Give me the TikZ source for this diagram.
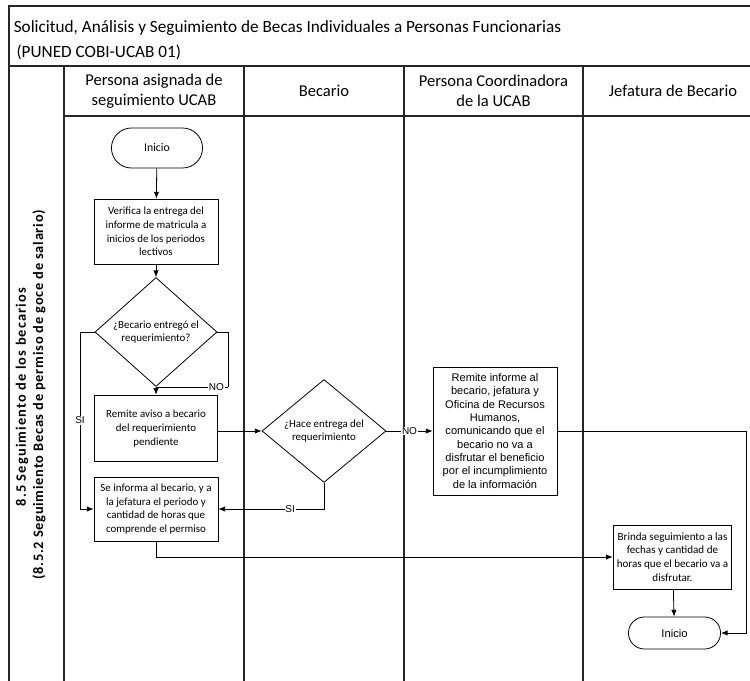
\documentclass[tikz,border=0pt]{standalone}
\usepackage{fontspec}
\setmainfont{Carlito}
\newfontfamily\arialfont{Liberation Sans}
\usetikzlibrary{shapes.geometric,shapes.misc,arrows.meta}

\tikzset{%
  lane line/.style={
    draw=black!85,
    line width=1pt
  },
  lane title/.style={
    align=center,
    font=\fontsize{12.4}{15}\selectfont
  },
  phase title/.style={
    rotate=90,
    font=\bfseries\fontsize{10.8}{12.8}\selectfont
  },
  process/.style={
    rectangle,
    draw,
    line width=0.6pt,
    align=center,
    inner sep=1pt,
    font=\fontsize{8.2}{10.3}\selectfont
  },
  decision/.style={
    diamond,
    draw,
    line width=0.6pt,
    align=center,
    inner sep=0pt,
    font=\fontsize{8.2}{10.3}\selectfont
  },
  terminal/.style={
    rounded rectangle,
    draw,
    line width=0.6pt,
    font=\fontsize{8.8}{10}\selectfont
  },
  flow label/.style={
    fill=white,
    inner sep=0.5pt,
    font=\arialfont\fontsize{7.5}{8}\selectfont
  },
}

\begin{document}
\begin{tikzpicture}[x=0.75pt, y=-0.75pt, >={Latex[length=5pt,width=4pt]}, line width=0.6pt]
    \useasboundingbox (0,0) rectangle (750,681);
    \clip (0,0) rectangle (750,681);

        % pool and lanes
        \draw [lane line] (9,6) rectangle (800,700);
        \draw [lane line] (9,66) -- (800,66);
        \draw [lane line] (64,116) -- (800,116);
        \foreach \x in {64,244,404,583}
          \draw [lane line] (\x,66) -- (\x,700);
        \node [anchor=north west, align=left, font=\fontsize{12.9}{18.5}\selectfont] (title) at (9,16)
          {Solicitud, Análisis y Seguimiento de Becas Individuales a Personas Funcionarias\\\hspace{2pt}(PUNED COBI-UCAB 01)};
        \foreach \x/\l [count=\i] in {154/{Persona asignada de\\seguimiento UCAB}, 324/{Becario}, 493.5/{Persona Coordinadora\\de la UCAB}, 673/{Jefatura de Becario}}
          \node [lane title] (lane-\i) at (\x,91) {\l};
        \node [phase title] (phase-1) at (22,397)
          {\addfontfeatures{LetterSpace=8}8.5 Seguimiento de los becarios};
        \node [phase title] (phase-2) at (39,395)
          {\addfontfeatures{LetterSpace=5.3}(8.5.2 Seguimiento Becas de permiso de goce de salario)};

        % steps
        \node [terminal, minimum width=75pt, minimum height=30pt] (start) at (157,148) {Inicio};
        \node [process, minimum width=93pt, minimum height=48.75pt] (verify) at (156,231.5)
          {Verifica la entrega del\\informe de matricula a\\inicios de los periodos\\lectivos};
        \node [decision, minimum width=91.5pt, minimum height=73.5pt] (check) at (156,332)
          {¿Becario entregó el\\requerimiento?};
        \node [process, minimum width=92pt, minimum height=50pt] (notice) at (156,428.5)
          {Remite aviso a becario\\del requerimiento\\pendiente};
        \node [process, minimum width=93pt, minimum height=48pt] (inform) at (156,509)
          {Se informa al becario, y a\\la jefatura el periodo y\\cantidad de horas que\\comprende el permiso};
        \node [decision, minimum width=93pt, minimum height=74pt] (deliver) at (324,431)
          {¿Hace entrega del\\requerimiento};
        \node [process, minimum width=93pt, minimum height=96pt, font=\arialfont\fontsize{8.3}{10}\selectfont] (report) at (495,431)
          {Remite informe al\\becario, jefatura y\\Oficina de Recursos\\Humanos,\\comunicando que el\\becario no va a\\disfrutar el beneficio\\por el incumplimiento\\de la información};
        \node [process, minimum width=89pt, minimum height=48pt, font=\fontsize{8.3}{10.3}\selectfont] (follow) at (672.5,557)
          {Brinda seguimiento a las\\fechas y cantidad de\\horas que el becario va a\\disfrutar.};
        \node [terminal, minimum width=75.75pt, minimum height=24pt, font=\arialfont\fontsize{8.4}{9}\selectfont] (finish) at (674.5,633) {Inicio};

        % bends
        \coordinate (no-bend) at (228,387);
        \coordinate (si-bend) at (80,509);
        \coordinate (report-bend) at (746,633);

        % connectors
        \draw [->] (start) -- (verify);
        \draw [->] (verify) -- (check);
        \draw (check.east) -| (no-bend);
        \draw [->] (no-bend) -| (notice.north)
          node [flow label, pos=0.08] {NO};
        \draw [->] (check.west) -| (si-bend)
          node [flow label, pos=0.75] {SI}
          -- (inform.west);
        \draw [->] (notice.east |- deliver.west) -- (deliver.west);
        \draw [->] (deliver.east) -- (report.west)
          node [flow label, midway] {NO};
        \draw [->] (deliver.south) |- (inform.east)
          node [flow label, pos=0.66] {SI};
        \draw [->] (report.east) -| (report-bend) -- (finish.east);
        \draw [->] (inform.south) |- (follow.west);
        \draw [->] (follow) -- (finish);
    \end{tikzpicture}
\end{document}
